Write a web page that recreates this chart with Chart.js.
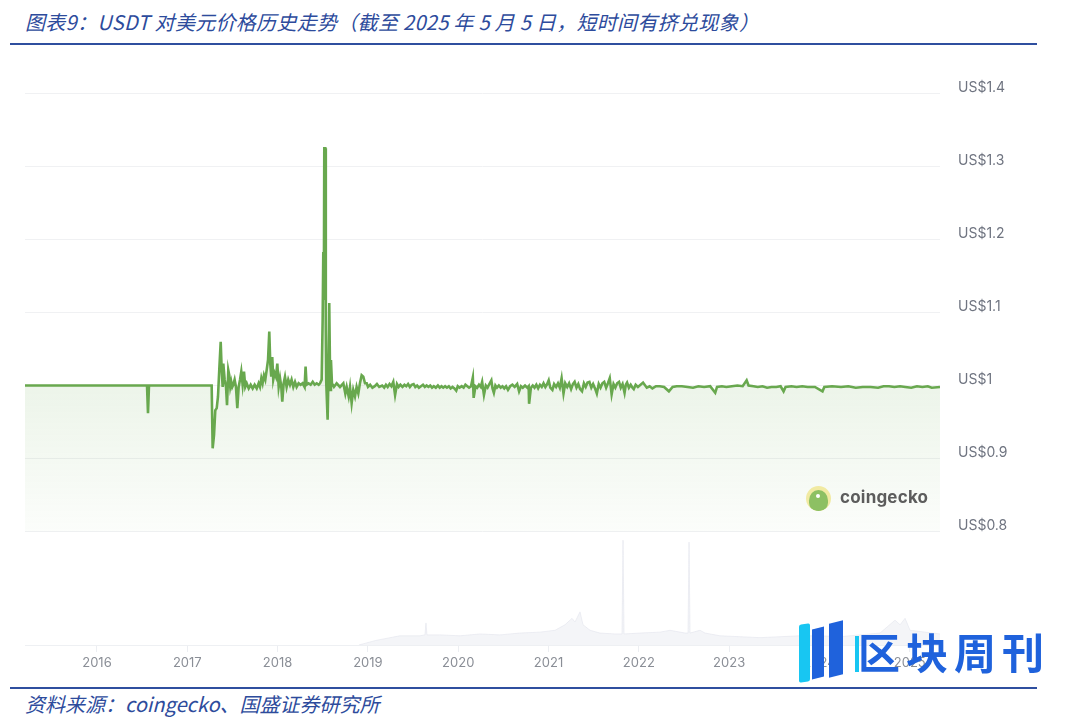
<!DOCTYPE html>
<html>
<head>
<meta charset="utf-8">
<script src="https://cdn.jsdelivr.net/npm/chart.js@4.4.1/dist/chart.umd.min.js"></script>
<style>
  html, body { margin: 0; padding: 0; background: #ffffff; }
  #page { position: relative; width: 1080px; height: 719px; overflow: hidden; background: #fff; }
  .title { position: absolute; left: 25px; top: 8px; font: italic 20px "Noto Sans CJK SC", "Noto Sans", sans-serif; color: #2d4b9c; white-space: nowrap; line-height: 28px; letter-spacing: 0.3px; }
  .rule { position: absolute; left: 10px; width: 1027px; height: 2px; background: #2f4f9f; }
  .footer { position: absolute; left: 25px; top: 690px; font: italic 20px "Noto Sans CJK SC", "Noto Sans", sans-serif; color: #2d4b9c; white-space: nowrap; line-height: 28px; }
  #wrap { position: absolute; left: 0; top: 50px; width: 1080px; height: 630px; }
  .cg-logo { position: absolute; left: 806px; top: 486px; width: 25px; height: 25px; border-radius: 50%; background: #f1eaa2; overflow: hidden; }
  .cg-logo .g { position: absolute; left: 3px; top: 4px; width: 19px; height: 21px; border-radius: 50% 50% 40% 40%; background: #8dc063; }
  .cg-logo .e { position: absolute; left: 10px; top: 8px; width: 4px; height: 4px; border-radius: 50%; background: #fff; }
  .cg-text { position: absolute; left: 840px; top: 485px; font: bold 17px "Inter", "Roboto", sans-serif; color: #5c5c5c; line-height: 24px; letter-spacing: 0.2px; }
  .wm-text { position: absolute; left: 858px; top: 622px; font: bold 42px "Noto Sans CJK SC", sans-serif; color: #1f62dc; letter-spacing: 6px; line-height: 58px; white-space: nowrap; }
  .wm-bar1 { position: absolute; left: 799px; top: 624px; width: 11px; height: 58px; background: #18c6f2; border-radius: 2px; transform: skewY(-8deg); }
  .wm-bar2 { position: absolute; left: 812px; top: 628px; width: 12px; height: 50px; background: #1f62dc; transform: skewY(-14deg); }
  .wm-bar3 { position: absolute; left: 829px; top: 622px; width: 14px; height: 54px; background: #1f62dc; transform: skewY(-14deg); }
  .wm-bar4 { position: absolute; left: 855px; top: 636px; width: 4px; height: 36px; background: #18c6f2; }
</style>
</head>
<body>
<div id="page">
  <div class="title">图表9：USDT 对美元价格历史走势（截至 2025 年 5 月 5 日，短时间有挤兑现象）</div>
  <div class="rule" style="top:43px"></div>
  <div id="wrap"><canvas id="c" width="1080" height="630"></canvas></div>
  <div class="cg-logo"><div class="g"></div><div class="e"></div></div>
  <div class="cg-text">coingecko</div>
  <div class="wm-bar1"></div><div class="wm-bar2"></div><div class="wm-bar3"></div><div class="wm-bar4"></div>
  <div class="wm-text">区块周刊</div>
  <div class="rule" style="top:687px"></div>
  <div class="footer">资料来源：coingecko、国盛证券研究所</div>
</div>
<script>
// ---------- price data (decimal years / USD) ----------
const dates2015to2018 = [
  2015.203, 2016.554, 2016.565, 2016.576, 2017.270,
  2017.281, 2017.296, 2017.310, 2017.326, 2017.340, 2017.354, 2017.370, 2017.381, 2017.392, 2017.399,
  2017.414, 2017.429, 2017.440, 2017.454, 2017.465, 2017.476, 2017.487, 2017.498, 2017.509, 2017.524,
  2017.539, 2017.554, 2017.569, 2017.584, 2017.598, 2017.613, 2017.628, 2017.642, 2017.658, 2017.680,
  2017.702, 2017.724, 2017.746, 2017.769, 2017.790, 2017.805, 2017.820, 2017.834, 2017.849, 2017.864,
  2017.879, 2017.894, 2017.908, 2017.919, 2017.930, 2017.941, 2017.952, 2017.967, 2017.982, 2017.997,
  2018.012, 2018.027, 2018.041, 2018.052, 2018.067, 2018.082, 2018.100, 2018.118, 2018.137, 2018.155,
  2018.174, 2018.193, 2018.211, 2018.233, 2018.255, 2018.277, 2018.299, 2018.310, 2018.321, 2018.343,
  2018.366, 2018.389, 2018.411, 2018.433, 2018.455, 2018.470, 2018.488, 2018.499, 2018.506, 2018.512,
  2018.517, 2018.528, 2018.534, 2018.539, 2018.554, 2018.561, 2018.572, 2018.583, 2018.591, 2018.602,
  2018.624, 2018.654, 2018.691, 2018.728, 2018.750, 2018.765, 2018.787, 2018.802, 2018.820, 2018.838,
  2018.857, 2018.875, 2018.894, 2018.912, 2018.931, 2018.949, 2018.968, 2018.987, 2019.001
];
const prices2015to2018 = [
  1.000, 1.000, 0.962, 1.000, 1.000,
  0.914, 0.932, 0.966, 0.969, 0.985, 1.021, 1.060, 1.021, 0.998, 1.030,
  1.008, 0.998, 0.973, 1.021, 1.014, 0.998, 1.005, 0.998, 1.001, 1.008,
  0.998, 0.969, 0.998, 1.008, 1.019, 1.001, 1.019, 0.998, 1.003, 0.996,
  1.001, 0.996, 1.001, 0.996, 1.003, 0.998, 1.010, 1.003, 1.014, 1.008,
  1.021, 1.035, 1.074, 1.030, 1.012, 1.039, 1.008, 1.017, 1.012, 1.030,
  0.998, 1.010, 0.998, 0.978, 1.003, 1.012, 0.998, 1.008, 1.001, 1.008,
  0.998, 1.005, 0.998, 1.003, 1.001, 1.003, 0.998, 1.026, 1.001, 1.003,
  1.001, 1.005, 1.001, 1.003, 1.001, 1.003, 1.008, 1.090, 1.183, 1.117,
  1.325, 1.325, 1.076, 1.003, 0.953, 0.998, 1.113, 0.994, 1.035, 1.003,
  0.998, 1.003, 0.998, 1.003, 0.989, 0.998, 0.985, 0.998, 0.976, 0.994,
  0.985, 0.998, 0.989, 1.003, 1.014, 1.012, 1.003, 1.003, 0.998
];
const dates2019to2021 = [
  2019.025, 2019.050, 2019.076, 2019.100, 2019.125, 2019.158, 2019.180, 2019.200, 2019.219, 2019.240,
  2019.260, 2019.281, 2019.301, 2019.322, 2019.340, 2019.360, 2019.383, 2019.405, 2019.425, 2019.445,
  2019.465, 2019.485, 2019.506, 2019.525, 2019.545, 2019.565, 2019.588, 2019.610, 2019.630, 2019.650,
  2019.670, 2019.690, 2019.710, 2019.730, 2019.752, 2019.775, 2019.795, 2019.815, 2019.834, 2019.855,
  2019.875, 2019.896, 2019.916, 2019.937, 2019.958, 2019.978, 2019.995, 2020.015, 2020.039, 2020.060,
  2020.080, 2020.101, 2020.120, 2020.142, 2020.162, 2020.171, 2020.191, 2020.210, 2020.230, 2020.250,
  2020.265, 2020.285, 2020.306, 2020.325, 2020.345, 2020.367, 2020.380, 2020.395, 2020.412, 2020.429,
  2020.450, 2020.470, 2020.490, 2020.510, 2020.530, 2020.551, 2020.575, 2020.600, 2020.625, 2020.653,
  2020.674, 2020.695, 2020.715, 2020.740, 2020.765, 2020.780, 2020.785, 2020.805, 2020.825, 2020.845,
  2020.865, 2020.885, 2020.905, 2020.925, 2020.945, 2020.965, 2020.985, 2021.002, 2021.020, 2021.043,
  2021.062, 2021.084, 2021.105, 2021.125, 2021.145, 2021.166, 2021.185, 2021.207, 2021.228, 2021.250,
  2021.270, 2021.289, 2021.310, 2021.330, 2021.350, 2021.371, 2021.392, 2021.412, 2021.432, 2021.453,
  2021.474, 2021.494, 2021.515, 2021.535, 2021.556, 2021.576, 2021.597, 2021.617, 2021.638, 2021.658,
  2021.678, 2021.699, 2021.720, 2021.740, 2021.760, 2021.781, 2021.800, 2021.820, 2021.842, 2021.856,
  2021.870, 2021.890, 2021.910, 2021.930, 2021.944, 2021.965, 2021.990
];
const prices2019to2021 = [
  1.001, 0.997, 0.999, 1.002, 0.998, 1.000, 0.997, 1.001, 0.998, 1.002,
  0.999, 1.005, 0.987, 1.002, 0.998, 1.001, 0.998, 1.001, 0.999, 1.002,
  0.998, 1.001, 1.002, 0.998, 1.000, 0.997, 0.999, 1.001, 0.998, 1.000,
  0.998, 1.000, 0.997, 0.999, 0.997, 1.000, 0.997, 0.999, 0.997, 0.999,
  0.997, 0.999, 0.996, 0.998, 0.996, 0.993, 0.999, 0.997, 0.999, 0.997,
  1.001, 0.999, 0.997, 0.999, 1.011, 0.983, 0.999, 0.997, 1.001, 0.998,
  1.005, 0.987, 1.000, 0.997, 1.002, 1.007, 0.996, 0.990, 1.000, 0.997,
  1.000, 0.997, 0.999, 0.996, 0.999, 0.994, 0.999, 1.001, 0.998, 1.002,
  0.992, 0.999, 0.997, 1.000, 0.997, 0.999, 0.975, 0.997, 1.000, 0.997,
  1.001, 0.996, 1.001, 0.998, 1.003, 0.998, 1.002, 1.007, 0.997, 0.994,
  1.002, 0.998, 1.003, 0.997, 1.010, 0.989, 1.003, 0.998, 1.003, 0.995,
  1.002, 1.005, 0.997, 1.002, 0.995, 0.992, 1.003, 0.998, 1.004, 1.005,
  0.997, 1.002, 0.996, 0.989, 1.002, 0.997, 1.003, 1.005, 0.997, 1.003,
  1.010, 0.988, 1.002, 0.997, 1.003, 1.005, 0.997, 1.002, 0.990, 1.001,
  1.004, 0.997, 1.001, 0.997, 0.995, 1.001, 0.998
];
const dates2022to2025 = [
  2022.047, 2022.088, 2022.120, 2022.150, 2022.190, 2022.232, 2022.280, 2022.333, 2022.374,
  2022.420, 2022.477, 2022.540, 2022.600, 2022.660, 2022.723, 2022.790, 2022.846, 2022.866, 2022.920,
  2022.969, 2023.030, 2023.092, 2023.150, 2023.194, 2023.215, 2023.270, 2023.317, 2023.370, 2023.420,
  2023.470, 2023.522, 2023.570, 2023.603, 2023.625, 2023.690, 2023.747, 2023.810, 2023.869, 2023.950,
  2024.034, 2024.054, 2024.140, 2024.239, 2024.320, 2024.402, 2024.480, 2024.566, 2024.649, 2024.710,
  2024.771, 2024.830, 2024.893, 2024.950, 2025.017, 2025.080, 2025.140, 2025.200, 2025.243, 2025.335
];
const prices2022to2025 = [
  1.004, 0.997, 0.999, 0.996, 0.999, 0.999, 0.998, 0.992, 0.998,
  0.999, 0.999, 0.998, 0.997, 0.999, 0.998, 0.999, 0.990, 0.998, 0.999,
  0.998, 0.999, 1.000, 0.999, 1.007, 1.000, 0.999, 0.998, 0.999, 0.997,
  0.998, 0.998, 0.999, 0.992, 0.998, 0.999, 0.998, 0.999, 0.998, 0.998,
  0.992, 0.998, 0.999, 0.998, 0.999, 0.997, 0.998, 0.998, 0.997, 0.999,
  0.999, 0.998, 0.999, 0.998, 0.997, 0.999, 0.998, 0.999, 0.997, 0.998
];
// trading volume (relative units, faint band under the price)
const volumeDates = [
  2018.900, 2019.090, 2019.355, 2019.577, 2019.632, 2019.643, 2019.654, 2019.798, 2020.020, 2020.241,
  2020.463, 2020.684, 2020.906, 2021.072, 2021.183, 2021.260, 2021.293, 2021.349, 2021.382, 2021.460,
  2021.570, 2021.737, 2021.814, 2021.825, 2021.836, 2022.013, 2022.235, 2022.345, 2022.511, 2022.545,
  2022.556, 2022.567, 2022.678, 2022.733, 2022.899, 2023.121, 2023.342, 2023.564, 2023.785, 2024.007,
  2024.228, 2024.450, 2024.671, 2024.837, 2024.893, 2024.948, 2025.003, 2025.169, 2025.335
];
const volumeValues = [
  0, 5, 10, 10, 11, 24, 11, 11, 10, 12,
  11, 13, 14, 16, 22, 29, 25, 36, 22, 16,
  13, 12, 12, 114, 12, 13, 14, 16, 13, 13,
  112, 13, 16, 13, 10, 9, 8, 9, 10, 10,
  9, 11, 13, 27, 22, 29, 16, 14, 12
];
const yearTicks = [2016, 2017, 2018, 2019, 2020, 2021, 2022, 2023, 2024, 2025];
const yearLabels = ['2016', '2017', '2018', '2019', '2020', '2021', '2022', '2023', '2024', '2025'];
const priceTicks = [0.8, 0.9, 1.0, 1.1, 1.2, 1.3, 1.4];
const priceLabels = ['US$0.8', 'US$0.9', 'US$1', 'US$1.1', 'US$1.2', 'US$1.3', 'US$1.4'];

const allDates = dates2015to2018.concat(dates2019to2021, dates2022to2025);
const allPrices = prices2015to2018.concat(prices2019to2021, prices2022to2025);
const pricePoints = allDates.map((d, i) => ({ x: d, y: allPrices[i] }));
const volumePoints = volumeDates.map((d, i) => ({ x: d, y: volumeValues[i] }));

function priceFill(context) {
  const chart = context.chart;
  const area = chart.chartArea;
  if (!area) return 'rgba(102,168,76,0.08)';
  const ys = chart.scales.y;
  const top = ys.getPixelForValue(1.0);
  const bot = ys.getPixelForValue(0.8);
  const g = chart.ctx.createLinearGradient(0, top, 0, bot);
  g.addColorStop(0, 'rgba(102,168,76,0.12)');
  g.addColorStop(1, 'rgba(102,168,76,0.025)');
  return g;
}

new Chart(document.getElementById('c'), {
  type: 'line',
  data: {
    datasets: [
      {
        label: 'USDT',
        data: pricePoints,
        yAxisID: 'y',
        borderColor: '#68a84e',
        borderWidth: 2.6,
        pointRadius: 0,
        tension: 0,
        fill: { target: { value: 0.8 } },
        backgroundColor: priceFill,
        order: 1
      },
      {
        label: 'Volume',
        data: volumePoints,
        yAxisID: 'yv',
        borderColor: 'rgba(226,229,236,0.6)',
        borderWidth: 1,
        pointRadius: 0,
        tension: 0,
        fill: 'origin',
        backgroundColor: 'rgba(230,233,240,0.45)',
        order: 2
      }
    ]
  },
  options: {
    responsive: false,
    animation: false,
    events: [],
    layout: { padding: { left: 25, top: 43.5, right: 0, bottom: 0 } },
    plugins: { legend: { display: false }, tooltip: { enabled: false } },
    scales: {
      x: {
        type: 'linear',
        min: 2015.203,
        max: 2025.335,
        afterBuildTicks: (axis) => { axis.ticks = yearTicks.map(v => ({ value: v })); },
        afterFit: (axis) => { axis.height = 35; },
        ticks: {
          color: '#8a8e96',
          font: { family: 'Inter', size: 13 },
          padding: 3,
          maxRotation: 0,
          autoSkip: false,
          callback: (v, i) => yearLabels[i]
        },
        grid: { drawOnChartArea: false, drawTicks: true, tickLength: 7, color: '#eceef2' },
        border: { display: true, color: '#eef0f3' }
      },
      y: {
        position: 'right',
        min: 0.6445,
        max: 1.4,
        afterBuildTicks: (axis) => { axis.ticks = priceTicks.map(v => ({ value: v })); },
        afterFit: (axis) => { axis.width = 140; },
        ticks: {
          color: '#6f7480',
          font: { family: 'Inter', size: 14 },
          padding: 18,
          labelOffset: -6,
          callback: (v, i) => priceLabels[i]
        },
        grid: { color: '#f0f1f3', drawTicks: false, lineWidth: 1 },
        border: { display: false }
      },
      yv: {
        display: false,
        min: 0,
        max: 600
      }
    }
  }
});
</script>
</body>
</html>
